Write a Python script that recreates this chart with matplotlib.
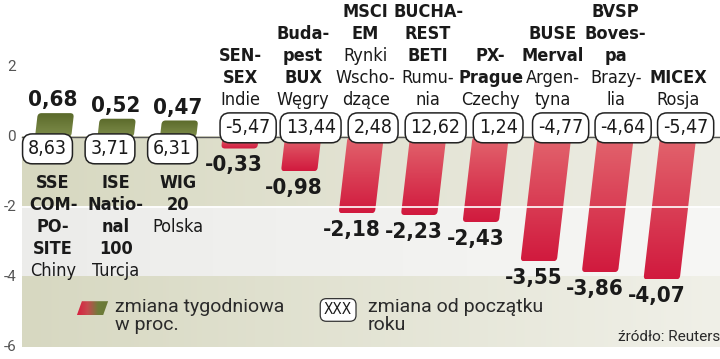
import math
import numpy as np
import matplotlib
matplotlib.use('Agg')
import matplotlib.pyplot as plt
import matplotlib.transforms as mtransforms
from matplotlib.patches import FancyBboxPatch, Polygon
from matplotlib.colors import LinearSegmentedColormap

# dane
index_names = ['SSE\nCOM-\nPO-\nSITE', 'ISE\nNatio-\nnal\n100', 'WIG\n20', 'SEN-\nSEX',
               'Buda-\npest\nBUX', 'MSCI\nEM', 'BUCHA-\nREST\nBETI', 'PX-\nPrague',
               'BUSE\nMerval', 'BVSP\nBoves-\npa', 'MICEX']
countries = ['Chiny', 'Turcja', 'Polska', 'Indie', 'Węgry', 'Rynki\nWscho-\ndzące',
             'Rumu-\nnia', 'Czechy', 'Argen-\ntyna', 'Brazy-\nlia', 'Rosja']
weekly = [0.68, 0.52, 0.47, -0.33, -0.98, -2.18, -2.23, -2.43, -3.55, -3.86, -4.07]
ytd = ['8,63', '3,71', '6,31', '-5,47', '13,44', '2,48', '12,62', '1,24', '-4,77', '-4,64', '-5,47']
y_ticks = [2, 0, -2, -4, -6]

COND = ['DejaVu Sans']
LIGHT = ['Roboto', 'DejaVu Sans']
plt.rcParams['font.family'] = COND
plt.rcParams['font.stretch'] = 'condensed'

RED = LinearSegmentedColormap.from_list('red', ['#e2646d', '#d11a3e'])
OLIVE = LinearSegmentedColormap.from_list('olive', ['#5b6a2b', '#7f8e4b'])

fig = plt.figure(figsize=(7.2, 3.59), dpi=100)
ax = fig.add_axes([0, 0, 1, 1])
ax.set_axis_off()
XMIN, XMAX = -0.85, 10.67
YMIN, YMAX = -6.34, 3.91
BAND_X0 = -0.5
SKEW = 0.065

# tlo - pasy
def band(y0, y1, c0, c1):
    grad = np.linspace(0, 1, 256).reshape(1, -1)
    cmap = LinearSegmentedColormap.from_list('b', [c0, c1])
    ax.imshow(grad, extent=(BAND_X0, XMAX, y1, y0), cmap=cmap, aspect='auto', zorder=0)

band(0, -2, '#d7d8c0', '#eeeee6')
band(-2, -4, '#ececea', '#f7f7f5')
band(-4, -6, '#d7d8c1', '#f0f0e8')

for t in y_ticks:
    ax.text(-0.59, t, str(t), ha='right', va='center', fontsize=11,
            color='#555555', family=LIGHT)

ax.plot([BAND_X0, XMAX], [0, 0], color='#555555', lw=1, zorder=1)

skew = mtransforms.Affine2D().skew(math.atan(SKEW), 0)

for i, v in enumerate(weekly):
    w = 0.58
    x0 = i - w / 2
    cmap = OLIVE if v > 0 else RED
    patch = FancyBboxPatch((x0, min(0, v)), w, abs(v),
                           boxstyle='round,pad=0,rounding_size=0.06',
                           mutation_aspect=1.8, lw=0, fc='none',
                           transform=skew + ax.transData)
    ax.add_patch(patch)
    grad = np.linspace(0, 1, 64).reshape(-1, 1)
    ylo, yhi = min(0, v), max(0, v)
    im = ax.imshow(grad, extent=(x0 - 0.4, x0 + w + 0.4, ylo, yhi),
                   cmap=cmap, aspect='auto', origin='upper', zorder=2)
    im.set_clip_path(patch)

    lines = index_names[i].split('\n') + countries[i].split('\n')
    nb = len(index_names[i].split('\n'))
    if v > 0:
        ax.text(i, v + 0.37, f'{v:.2f}'.replace('.', ','), ha='center', va='center',
                fontsize=16, fontweight='bold', color='#1a1a1a', zorder=5)
        bx, by = i - 0.09, -0.34
        for k, line in enumerate(lines):
            ax.text(i, -1.31 - k * 0.63, line, ha='center', va='center', fontsize=13,
                    fontweight='bold' if k < nb else 'normal', color='#1a1a1a', zorder=5)
    else:
        xb = i + SKEW * v
        ax.text(xb - 0.08, v - 0.47, f'{v:.2f}'.replace('.', ','), ha='center', va='center',
                fontsize=16, fontweight='bold', color='#1a1a1a', zorder=5)
        bx, by = i + 0.12, 0.26
        n = len(lines)
        for k, line in enumerate(lines):
            ax.text(i, 1.06 + (n - 1 - k) * 0.63, line, ha='center', va='center', fontsize=13,
                    fontweight='bold' if k < nb else 'normal', color='#1a1a1a', zorder=5)

    ax.text(bx, by, ytd[i], ha='center', va='center', fontsize=14, color='#1a1a1a', zorder=6,
            bbox=dict(boxstyle='round,pad=0.28,rounding_size=0.5', fc='white', ec='#222222', lw=1.1))

# biala linia na -2
ax.plot([BAND_X0, XMAX], [-2, -2], color='white', lw=1.2, zorder=3)

# legenda
sw_y = -4.89
sx = 0.38
sw = Polygon([[sx, sw_y - 0.2], [sx + 0.42, sw_y - 0.2], [sx + 0.5, sw_y + 0.2], [sx + 0.08, sw_y + 0.2]],
             closed=True, fc='none', lw=0)
ax.add_patch(sw)
lg = LinearSegmentedColormap.from_list('lg', ['#d8203f', '#c64a4f', '#6e7c39', '#6a7836'])
im = ax.imshow(np.linspace(0, 1, 64).reshape(1, -1), extent=(sx, sx + 0.5, sw_y - 0.2, sw_y + 0.2),
               cmap=lg, aspect='auto', zorder=4)
im.set_clip_path(sw)
ax.text(0.99, sw_y + 0.3, 'zmiana tygodniowa\nw proc.', ha='left', va='top',
        fontsize=14, family=LIGHT, color='#2a2a2a', linespacing=1.0)
ax.text(4.56, sw_y - 0.05, 'XXX', ha='center', va='center', fontsize=11, color='#1a1a1a',
        bbox=dict(boxstyle='round,pad=0.25,rounding_size=0.4', fc='white', ec='#333333', lw=0.9))
ax.text(5.03, sw_y + 0.3, 'zmiana od początku\nroku', ha='left', va='top',
        fontsize=14, family=LIGHT, color='#2a2a2a', linespacing=1.0)
ax.text(10.67, -5.71, 'źródło: Reuters', ha='right', va='center', fontsize=11,
        family=LIGHT, color='#2a2a2a')

ax.set_xlim(XMIN, XMAX)
ax.set_ylim(YMIN, YMAX)
fig.savefig('out.png', dpi=100, facecolor='white')
